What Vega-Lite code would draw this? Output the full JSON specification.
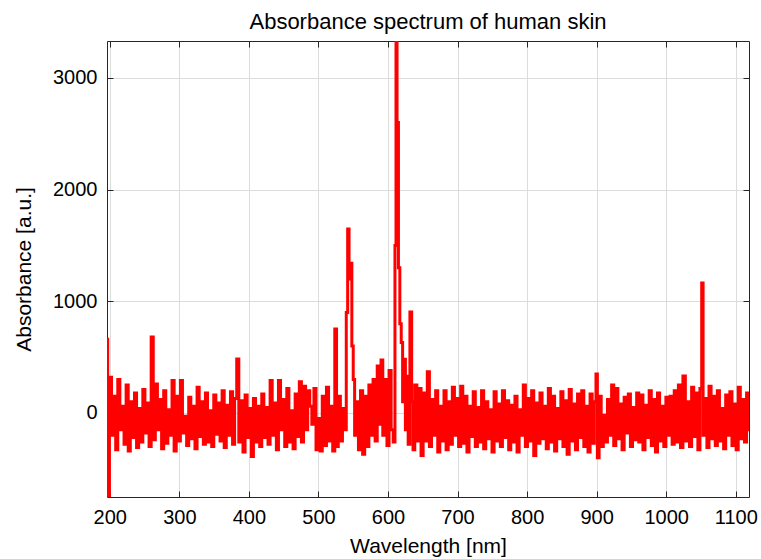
{
  "$schema": "https://vega.github.io/schema/vega-lite/v6.json",
  "autosize": {"type": "none"},
  "padding": {"left": 107, "top": 41, "right": 12, "bottom": 62},
  "width": 642,
  "height": 456,
  "title": {"text": "Absorbance spectrum of human skin", "fontSize": 22, "fontWeight": "normal", "color": "#000000", "anchor": "middle", "baseline": "alphabetic", "offset": -10},
  "data": {"values": [
    {"wl":196,"a":660},{"wl":198,"a":-752},{"wl":201,"a":320},{"wl":204,"a":-200},{"wl":207,"a":150},{"wl":210,"a":-330},{"wl":213,"a":300},{"wl":216,"a":-150},{"wl":219,"a":60},{"wl":222,"a":-280},
    {"wl":225,"a":250},{"wl":228,"a":-340},{"wl":231,"a":100},{"wl":234,"a":-220},{"wl":237,"a":180},{"wl":240,"a":-310},{"wl":243,"a":40},{"wl":246,"a":-260},{"wl":249,"a":210},{"wl":252,"a":-180},
    {"wl":255,"a":90},{"wl":258,"a":-300},{"wl":261,"a":680},{"wl":264,"a":-240},{"wl":267,"a":260},{"wl":270,"a":-150},{"wl":273,"a":120},{"wl":276,"a":-320},{"wl":279,"a":200},{"wl":282,"a":-270},
    {"wl":285,"a":30},{"wl":288,"a":-200},{"wl":291,"a":290},{"wl":294,"a":-340},{"wl":297,"a":150},{"wl":300,"a":-250},{"wl":303,"a":290},{"wl":306,"a":-180},{"wl":309,"a":-30},{"wl":312,"a":-290},
    {"wl":315,"a":140},{"wl":318,"a":-230},{"wl":321,"a":60},{"wl":324,"a":-320},{"wl":327,"a":230},{"wl":330,"a":-210},{"wl":333,"a":100},{"wl":336,"a":-280},{"wl":339,"a":180},{"wl":342,"a":-260},
    {"wl":345,"a":20},{"wl":348,"a":-300},{"wl":351,"a":160},{"wl":354,"a":-190},{"wl":357,"a":90},{"wl":360,"a":-250},{"wl":363,"a":200},{"wl":366,"a":-310},{"wl":369,"a":70},{"wl":372,"a":-200},
    {"wl":375,"a":190},{"wl":378,"a":-280},{"wl":381,"a":130},{"wl":384,"a":483},{"wl":387,"a":-260},{"wl":390,"a":110},{"wl":393,"a":-350},{"wl":396,"a":160},{"wl":399,"a":-220},{"wl":402,"a":40},
    {"wl":405,"a":-390},{"wl":408,"a":130},{"wl":411,"a":-260},{"wl":414,"a":60},{"wl":417,"a":-300},{"wl":420,"a":170},{"wl":423,"a":-220},{"wl":426,"a":50},{"wl":429,"a":-280},{"wl":432,"a":290},
    {"wl":435,"a":-200},{"wl":438,"a":90},{"wl":441,"a":-330},{"wl":444,"a":290},{"wl":447,"a":-150},{"wl":450,"a":120},{"wl":453,"a":-300},{"wl":456,"a":220},{"wl":459,"a":-260},{"wl":462,"a":20},
    {"wl":465,"a":-320},{"wl":468,"a":170},{"wl":471,"a":-210},{"wl":474,"a":280},{"wl":477,"a":-260},{"wl":480,"a":240},{"wl":483,"a":-150},{"wl":486,"a":200},{"wl":489,"a":60},{"wl":492,"a":-100},
    {"wl":495,"a":220},{"wl":498,"a":-330},{"wl":501,"a":-50},{"wl":504,"a":-340},{"wl":507,"a":150},{"wl":510,"a":-290},{"wl":513,"a":230},{"wl":516,"a":-250},{"wl":519,"a":60},{"wl":522,"a":-340},
    {"wl":525,"a":752},{"wl":527,"a":-300},{"wl":530,"a":150},{"wl":533,"a":-250},{"wl":536,"a":40},{"wl":539,"a":-150},{"wl":541,"a":900},{"wl":543,"a":1647},{"wl":545,"a":1200},{"wl":547,"a":1340},
    {"wl":549,"a":600},{"wl":551,"a":300},{"wl":553,"a":-200},{"wl":556,"a":100},{"wl":559,"a":-330},{"wl":562,"a":200},{"wl":565,"a":-370},{"wl":568,"a":150},{"wl":571,"a":-300},{"wl":574,"a":250},
    {"wl":577,"a":-200},{"wl":580,"a":300},{"wl":583,"a":-250},{"wl":586,"a":420},{"wl":589,"a":-100},{"wl":591,"a":474},{"wl":594,"a":-200},{"wl":597,"a":300},{"wl":600,"a":-290},{"wl":603,"a":380},
    {"wl":606,"a":-150},{"wl":609,"a":-260},{"wl":611,"a":1500},{"wl":612,"a":3330},{"wl":614,"a":2600},{"wl":616,"a":1300},{"wl":618,"a":800},{"wl":620,"a":630},{"wl":622,"a":100},{"wl":624,"a":480},
    {"wl":626,"a":-150},{"wl":628,"a":330},{"wl":630,"a":-280},{"wl":633,"a":904},{"wl":635,"a":100},{"wl":637,"a":-330},{"wl":640,"a":250},{"wl":643,"a":-250},{"wl":646,"a":220},{"wl":649,"a":-380},
    {"wl":652,"a":180},{"wl":655,"a":-250},{"wl":658,"a":370},{"wl":661,"a":-300},{"wl":664,"a":120},{"wl":667,"a":-200},{"wl":670,"a":200},{"wl":673,"a":-350},{"wl":676,"a":60},{"wl":679,"a":-250},
    {"wl":682,"a":200},{"wl":685,"a":-330},{"wl":688,"a":100},{"wl":691,"a":-280},{"wl":694,"a":230},{"wl":697,"a":-200},{"wl":700,"a":130},{"wl":703,"a":-300},{"wl":706,"a":240},{"wl":709,"a":-270},
    {"wl":712,"a":150},{"wl":715,"a":-350},{"wl":718,"a":60},{"wl":721,"a":-210},{"wl":724,"a":190},{"wl":727,"a":-300},{"wl":730,"a":50},{"wl":733,"a":-260},{"wl":736,"a":200},{"wl":739,"a":-320},
    {"wl":742,"a":100},{"wl":745,"a":-230},{"wl":748,"a":30},{"wl":751,"a":-350},{"wl":754,"a":190},{"wl":757,"a":-250},{"wl":760,"a":80},{"wl":763,"a":-300},{"wl":766,"a":200},{"wl":769,"a":-220},
    {"wl":772,"a":110},{"wl":775,"a":-330},{"wl":778,"a":70},{"wl":781,"a":-260},{"wl":784,"a":150},{"wl":787,"a":-350},{"wl":790,"a":30},{"wl":793,"a":-200},{"wl":796,"a":250},{"wl":799,"a":-300},
    {"wl":802,"a":130},{"wl":805,"a":-250},{"wl":808,"a":200},{"wl":811,"a":-380},{"wl":814,"a":90},{"wl":817,"a":-270},{"wl":820,"a":180},{"wl":823,"a":-230},{"wl":826,"a":60},{"wl":829,"a":-320},
    {"wl":832,"a":220},{"wl":835,"a":-260},{"wl":838,"a":150},{"wl":841,"a":-340},{"wl":844,"a":40},{"wl":847,"a":-230},{"wl":850,"a":190},{"wl":853,"a":-300},{"wl":856,"a":110},{"wl":859,"a":-370},
    {"wl":862,"a":210},{"wl":865,"a":-250},{"wl":868,"a":80},{"wl":871,"a":-330},{"wl":874,"a":170},{"wl":877,"a":-220},{"wl":880,"a":200},{"wl":883,"a":-300},{"wl":886,"a":60},{"wl":889,"a":-350},
    {"wl":892,"a":170},{"wl":895,"a":-270},{"wl":898,"a":100},{"wl":900,"a":349},{"wl":902,"a":-400},{"wl":905,"a":150},{"wl":908,"a":-300},{"wl":911,"a":-20},{"wl":914,"a":-260},{"wl":917,"a":120},
    {"wl":920,"a":-200},{"wl":923,"a":250},{"wl":926,"a":-290},{"wl":929,"a":220},{"wl":932,"a":-230},{"wl":935,"a":80},{"wl":938,"a":-330},{"wl":941,"a":140},{"wl":944,"a":-180},{"wl":947,"a":170},
    {"wl":950,"a":-300},{"wl":953,"a":50},{"wl":956,"a":-240},{"wl":959,"a":180},{"wl":962,"a":-260},{"wl":965,"a":160},{"wl":968,"a":-330},{"wl":971,"a":70},{"wl":974,"a":-220},{"wl":977,"a":200},
    {"wl":980,"a":-290},{"wl":983,"a":120},{"wl":986,"a":-350},{"wl":989,"a":180},{"wl":992,"a":-250},{"wl":995,"a":60},{"wl":998,"a":-300},{"wl":1001,"a":140},{"wl":1004,"a":-200},{"wl":1007,"a":150},
    {"wl":1010,"a":-280},{"wl":1013,"a":200},{"wl":1016,"a":-260},{"wl":1019,"a":250},{"wl":1022,"a":-310},{"wl":1026,"a":331},{"wl":1029,"a":-250},{"wl":1032,"a":100},{"wl":1035,"a":-300},{"wl":1038,"a":230},
    {"wl":1041,"a":-210},{"wl":1044,"a":180},{"wl":1047,"a":-330},{"wl":1050,"a":220},{"wl":1052,"a":1164},{"wl":1054,"a":-200},{"wl":1057,"a":130},{"wl":1060,"a":-310},{"wl":1063,"a":240},{"wl":1066,"a":-230},
    {"wl":1069,"a":150},{"wl":1072,"a":-290},{"wl":1075,"a":200},{"wl":1078,"a":-250},{"wl":1081,"a":40},{"wl":1084,"a":-320},{"wl":1087,"a":160},{"wl":1090,"a":-200},{"wl":1093,"a":190},{"wl":1096,"a":-290},
    {"wl":1099,"a":80},{"wl":1102,"a":-330},{"wl":1105,"a":230},{"wl":1108,"a":-230},{"wl":1111,"a":120},{"wl":1114,"a":-260},{"wl":1117,"a":180},{"wl":1119,"a":-150}
  ]},
  "layer": [
    {
      "mark": {"type": "line", "color": "#ff0000", "strokeWidth": 3, "interpolate": "step", "clip": true},
      "encoding": {
        "x": {"field": "wl", "type": "quantitative", "scale": {"domain": [196, 1119], "nice": false, "zero": false},
              "axis": {"title": "Wavelength [nm]", "values": [200,300,400,500,600,700,800,900,1000,1100], "format": "d", "grid": true, "tickSize": -6, "labelPadding": 16, "titlePadding": 8}},
        "y": {"field": "a", "type": "quantitative", "scale": {"domain": [-752, 3330], "nice": false, "zero": false},
              "axis": {"title": "Absorbance [a.u.]", "values": [0,1000,2000,3000], "format": "d", "grid": true, "tickSize": -6, "labelPadding": 16, "titlePadding": 18}}
      }
    },
    {
      "mark": {"type": "line", "opacity": 0},
      "encoding": {
        "x": {"field": "wl", "type": "quantitative", "scale": {"domain": [196, 1119], "nice": false, "zero": false},
              "axis": {"orient": "top", "title": null, "labels": false, "grid": false, "values": [200,300,400,500,600,700,800,900,1000,1100], "tickSize": -6}},
        "y": {"field": "a", "type": "quantitative", "scale": {"domain": [-752, 3330], "nice": false, "zero": false},
              "axis": {"orient": "right", "title": null, "labels": false, "grid": false, "values": [0,1000,2000,3000], "tickSize": -6}}
      }
    }
  ],
  "resolve": {"scale": {"x": "independent", "y": "independent"}},
  "config": {
    "font": "Liberation Sans",
    "view": {"stroke": null},
    "axis": {
      "domainColor": "#262626", "domainWidth": 1, "tickColor": "#262626", "tickWidth": 1,
      "gridColor": "#dcdcdc", "gridWidth": 1,
      "labelFontSize": 20, "labelColor": "#000000", "labelFont": "Liberation Sans",
      "titleFontSize": 21, "titleFontWeight": "normal", "titleColor": "#000000", "titleFont": "Liberation Sans"
    }
  }
}
